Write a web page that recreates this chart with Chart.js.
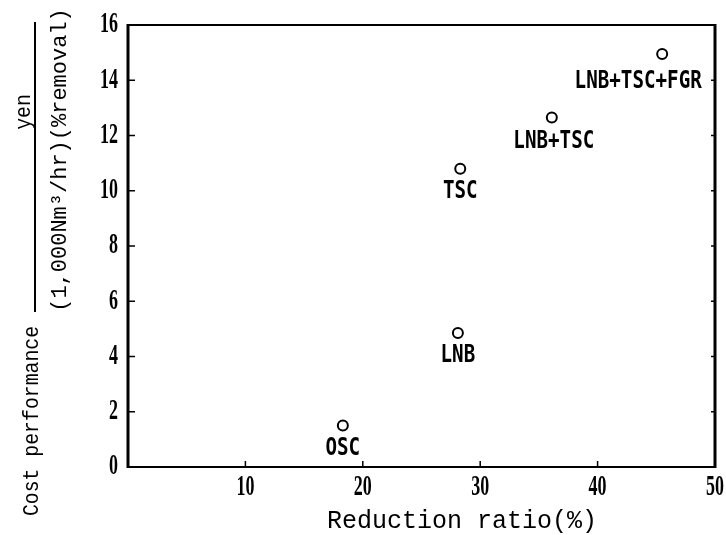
<!DOCTYPE html>
<html>
  <head>
    <meta charset="utf-8">
    <style>
      body {
        margin: 0;
        background: #fff;
      }
      #costChart {
        display: block;
      }
    </style>
    <script src="https://cdn.jsdelivr.net/npm/chart.js"></script>
  </head>
  <body>
    <canvas id="costChart" width="726" height="535"></canvas>
    <script>
      // data
      var methods = ['OSC', 'LNB', 'TSC', 'LNB+TSC', 'LNB+TSC+FGR'];
      var reductionRatio = [18.3, 28.1, 28.3, 36.1, 45.5];
      var costPerformance = [1.5, 4.85, 10.8, 12.65, 14.95];
      var xTicks = [10, 20, 30, 40, 50];
      var yTicks = [0, 2, 4, 6, 8, 10, 12, 14, 16];

      // label offsets relative to the point (px)
      var labelShift = {
        'LNB+TSC': [2, 24],
        'LNB+TSC+FGR': [-24, 28]
      };

      function condensedText(ctx, text, x, y, font, sx, align, angle) {
        ctx.save();
        ctx.translate(x, y);
        if (angle) ctx.rotate(angle);
        ctx.scale(sx, 1);
        ctx.font = font;
        ctx.textAlign = align || 'center';
        ctx.textBaseline = 'middle';
        ctx.fillStyle = '#000';
        ctx.fillText(text, 0, 0);
        ctx.restore();
      }

      var paperPlugin = {
        id: 'paper',
        beforeDraw: function(chart) {
          var ctx = chart.ctx;
          ctx.save();
          ctx.fillStyle = '#fff';
          ctx.fillRect(0, 0, chart.width, chart.height);
          ctx.restore();
        },
        afterDatasetsDraw: function(chart) {
          var ctx = chart.ctx;
          var area = chart.chartArea;
          var xs = chart.scales.x;
          var ys = chart.scales.y;

          // frame, sides heavier like the scan
          ctx.save();
          ctx.strokeStyle = '#000';
          ctx.lineWidth = 2;
          ctx.strokeRect(area.left, area.top, area.right - area.left, area.bottom - area.top);
          ctx.lineWidth = 3;
          ctx.beginPath();
          ctx.moveTo(area.left, area.top - 1);
          ctx.lineTo(area.left, area.bottom + 1);
          ctx.moveTo(area.right, area.top - 1);
          ctx.lineTo(area.right, area.bottom + 1);
          ctx.stroke();

          // inner tick marks
          ctx.lineWidth = 1.5;
          ctx.beginPath();
          yTicks.forEach(function(v) {
            if (v === 0 || v === 16) return;
            var py = ys.getPixelForValue(v);
            ctx.moveTo(area.left, py);
            ctx.lineTo(area.left + 7, py);
            ctx.moveTo(area.right, py);
            ctx.lineTo(area.right - 4, py);
          });
          xTicks.forEach(function(v) {
            if (v === 50) return;
            var px = xs.getPixelForValue(v);
            ctx.moveTo(px, area.bottom);
            ctx.lineTo(px, area.bottom - 6);
          });
          ctx.stroke();
          ctx.restore();

          // tick labels
          yTicks.forEach(function(v) {
            condensedText(ctx, String(v), area.left - 10, ys.getPixelForValue(v), 'bold 29px "Liberation Serif"', 0.62, 'right');
          });
          xTicks.forEach(function(v) {
            condensedText(ctx, String(v), xs.getPixelForValue(v), area.bottom + 21, 'bold 29px "Liberation Serif"', 0.62, 'center');
          });

          // point labels
          methods.forEach(function(name, i) {
            var shift = labelShift[name] || [0, 23];
            var px = xs.getPixelForValue(reductionRatio[i]) + shift[0];
            var py = ys.getPixelForValue(costPerformance[i]) + shift[1];
            condensedText(ctx, name, px, py, 'bold 24px "DejaVu Sans Mono"', 0.8, 'center');
          });

          // axis titles
          condensedText(ctx, 'Reduction ratio(%)', 462, 521, '25px "Liberation Mono"', 1, 'center');
          condensedText(ctx, 'Cost performance', 32, 421, '22px "Liberation Mono"', 0.9, 'center', -Math.PI / 2);
          condensedText(ctx, 'yen', 24, 112, '22px "Liberation Mono"', 0.9, 'center', -Math.PI / 2);
          condensedText(ctx, '(1,000Nm³/hr)(%removal)', 60, 160, '22px "Liberation Mono"', 1.0, 'center', -Math.PI / 2);

          // fraction bar
          ctx.save();
          ctx.strokeStyle = '#000';
          ctx.lineWidth = 2;
          ctx.beginPath();
          ctx.moveTo(35, 22);
          ctx.lineTo(35, 312);
          ctx.stroke();
          ctx.restore();
        }
      };

      var points = reductionRatio.map(function(x, i) {
        return { x: x, y: costPerformance[i] };
      });

      new Chart(document.getElementById('costChart'), {
        type: 'scatter',
        data: {
          datasets: [{
            data: points,
            pointStyle: 'circle',
            pointRadius: 5,
            pointBorderWidth: 2,
            pointBackgroundColor: '#fff',
            pointBorderColor: '#000'
          }]
        },
        options: {
          responsive: false,
          animation: false,
          layout: {
            padding: { left: 128, right: 11, top: 25, bottom: 68 }
          },
          plugins: {
            legend: { display: false },
            tooltip: { enabled: false }
          },
          scales: {
            x: { type: 'linear', min: 0, max: 50, display: false },
            y: { type: 'linear', min: 0, max: 16, display: false }
          }
        },
        plugins: [paperPlugin]
      });
    </script>
  </body>
</html>
